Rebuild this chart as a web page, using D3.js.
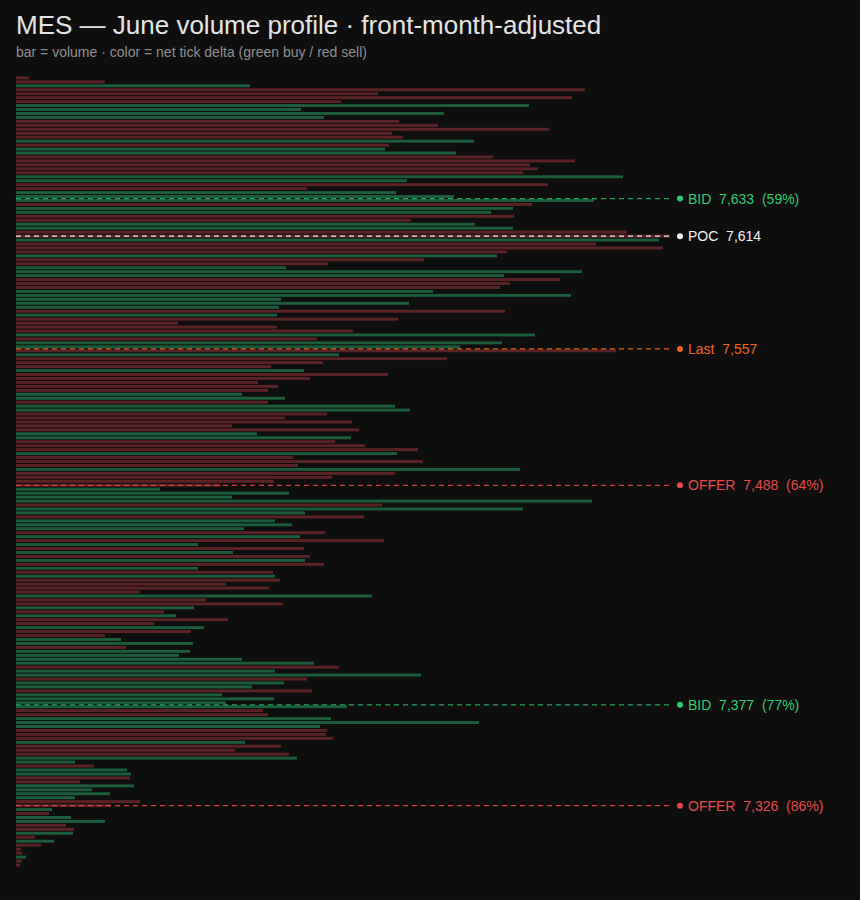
<!DOCTYPE html>
<html>
<head>
<meta charset="utf-8">
<script src="https://cdn.jsdelivr.net/npm/d3@7"></script>
<style>
  html, body { margin: 0; padding: 0; background: #0e0e0e; }
  svg { display: block; }
  text { font-family: "Liberation Sans", Arial, Helvetica, sans-serif; }
</style>
</head>
<body>
<svg id="chart" width="860" height="900"></svg>
<script>
// ---- data ----
const topPrice = 7694;      // highest price level (bins of 2 points)
const priceStep = 2;

// volume per 2-point price bin, from top (7694) down to 7296
const volumes = [
  13, 89, 234, 569, 362, 556, 325, 513, 285, 428,
  308, 383, 422, 533, 376, 387, 458, 373, 369, 440,
  477, 559, 514, 522, 507, 607, 391, 532, 291, 380,
  438, 578, 516, 497, 475, 498, 395, 459, 497, 611,
  654, 643, 580, 647, 491, 481, 408, 312, 270, 566,
  488, 544, 494, 484, 417, 555, 265, 393, 263, 489,
  261, 382, 162, 261, 337, 519, 301, 486, 444, 600,
  323, 431, 307, 255, 288, 372, 294, 242, 262, 252,
  226, 269, 252, 379, 394, 311, 269, 336, 216, 343,
  241, 335, 319, 349, 402, 381, 277, 407, 282, 504,
  379, 316, 258, 205, 144, 273, 216, 576, 366, 507,
  289, 348, 259, 276, 228, 309, 284, 368, 182, 288,
  217, 294, 289, 308, 182, 257, 259, 264, 210, 253,
  124, 356, 190, 267, 178, 148, 160, 212, 138, 188,
  175, 89, 105, 177, 110, 174, 163, 226, 298, 323,
  259, 405, 291, 268, 236, 296, 206, 258, 210, 331,
  247, 252, 315, 463, 304, 311, 310, 317, 229, 265,
  219, 273, 281, 59, 78, 111, 115, 114, 64, 118,
  76, 94, 59, 124, 95, 36, 33, 55, 89, 50,
  58, 57, 19, 38, 25, 5, 6, 10, 6, 4
];

// net tick delta sign per bin: "B" = buy (green), "S" = sell (red)
const deltaSide = [
  "S","S","B","S","S","S","S","B","B","B",
  "B","S","S","S","S","S","B","S","B","B",
  "S","S","S","S","S","B","B","S","S","B",
  "B","B","S","B","B","S","S","B","B","S",
  "S","B","S","S","S","B","S","S","B","B",
  "B","S","S","S","B","B","B","B","B","S",
  "B","S","S","S","S","B","S","B","B","S",
  "B","S","S","S","B","S","S","S","S","S",
  "B","B","S","B","B","S","S","S","S","S",
  "B","B","S","S","S","B","S","S","S","B",
  "S","S","S","S","B","B","B","B","S","B",
  "B","S","B","B","B","S","B","S","B","S",
  "B","S","B","S","B","S","B","S","S","S",
  "S","B","S","S","B","S","B","S","S","B",
  "S","S","B","B","S","B","B","B","B","S",
  "B","B","S","B","B","S","B","B","B","B",
  "S","S","B","B","B","S","S","S","B","S",
  "S","S","B","B","S","B","B","S","S","B",
  "B","B","B","S","S","B","S","B","B","S",
  "S","B","S","B","S","S","S","B","S","S"
];

// reference levels
const levelNames  = ["BID", "POC", "Last", "OFFER", "BID", "OFFER"];
const levelPrices = [7633, 7614, 7557, 7488, 7377, 7326];
const levelPcts   = ["59%", null, null, "64%", "77%", "86%"];

const title = "MES \u2014 June volume profile \u00b7 front-month-adjusted";
const subtitle = "bar = volume \u00b7 color = net tick delta (green buy / red sell)";

// ---- layout ----
const prices = d3.range(volumes.length).map(i => topPrice - i * priceStep);
const rows = prices.map((p, i) => ({ price: p, vol: volumes[i], side: deltaSide[i] }));

const svg = d3.select("#chart");
svg.append("rect").attr("width", 860).attr("height", 900).attr("fill", "#0e0e0e");

svg.append("text").attr("x", 16).attr("y", 34)
  .attr("fill", "#e4e4e4").attr("font-size", 26).text(title);
svg.append("text").attr("x", 16).attr("y", 57)
  .attr("fill", "#8e8e8e").attr("font-size", 14).text(subtitle);

const y = d3.scaleLinear()
  .domain([topPrice + priceStep / 2, prices[prices.length - 1] - priceStep / 2])
  .range([76, 867]);
const x = d3.scaleLinear()
  .domain([0, d3.max(volumes)])
  .range([16, 670]);

const sideColor = { B: "#1b5d3c", S: "#5c2326" };

svg.append("g").selectAll("rect").data(rows).join("rect")
  .attr("x", x(0))
  .attr("y", d => y(d.price + priceStep / 2) + 0.4)
  .attr("width", d => x(d.vol) - x(0))
  .attr("height", d => y(d.price - priceStep / 2) - y(d.price + priceStep / 2) - 1)
  .attr("fill", d => sideColor[d.side]);

const kindStyle = {
  BID:   { line: "#22a55e", text: "#2ecc71" },
  POC:   { line: "#e8e8e8", text: "#f2f2f2" },
  Last:  { line: "#e0621c", text: "#ec6420" },
  OFFER: { line: "#d8403e", text: "#e8494a" }
};

const levels = levelNames.map((n, i) => ({ name: n, price: levelPrices[i], pct: levelPcts[i] }));
const fmt = d3.format(",");

const lg = svg.append("g").selectAll("g").data(levels).join("g")
  .attr("transform", d => `translate(0,${y(d.price)})`);

lg.append("line")
  .attr("x1", x(0)).attr("x2", 672)
  .attr("stroke", d => kindStyle[d.name].line)
  .attr("stroke-width", 1.2)
  .attr("stroke-dasharray", "5,4");

lg.append("circle")
  .attr("cx", 680).attr("r", 3)
  .attr("fill", d => kindStyle[d.name].text);

lg.append("text")
  .attr("x", 688).attr("dy", "0.35em")
  .attr("font-size", 14)
  .attr("fill", d => kindStyle[d.name].text)
  .style("white-space", "pre")
  .text(d => d.name + "  " + fmt(d.price) + (d.pct ? "  (" + d.pct + ")" : ""));
</script>
</body>
</html>
